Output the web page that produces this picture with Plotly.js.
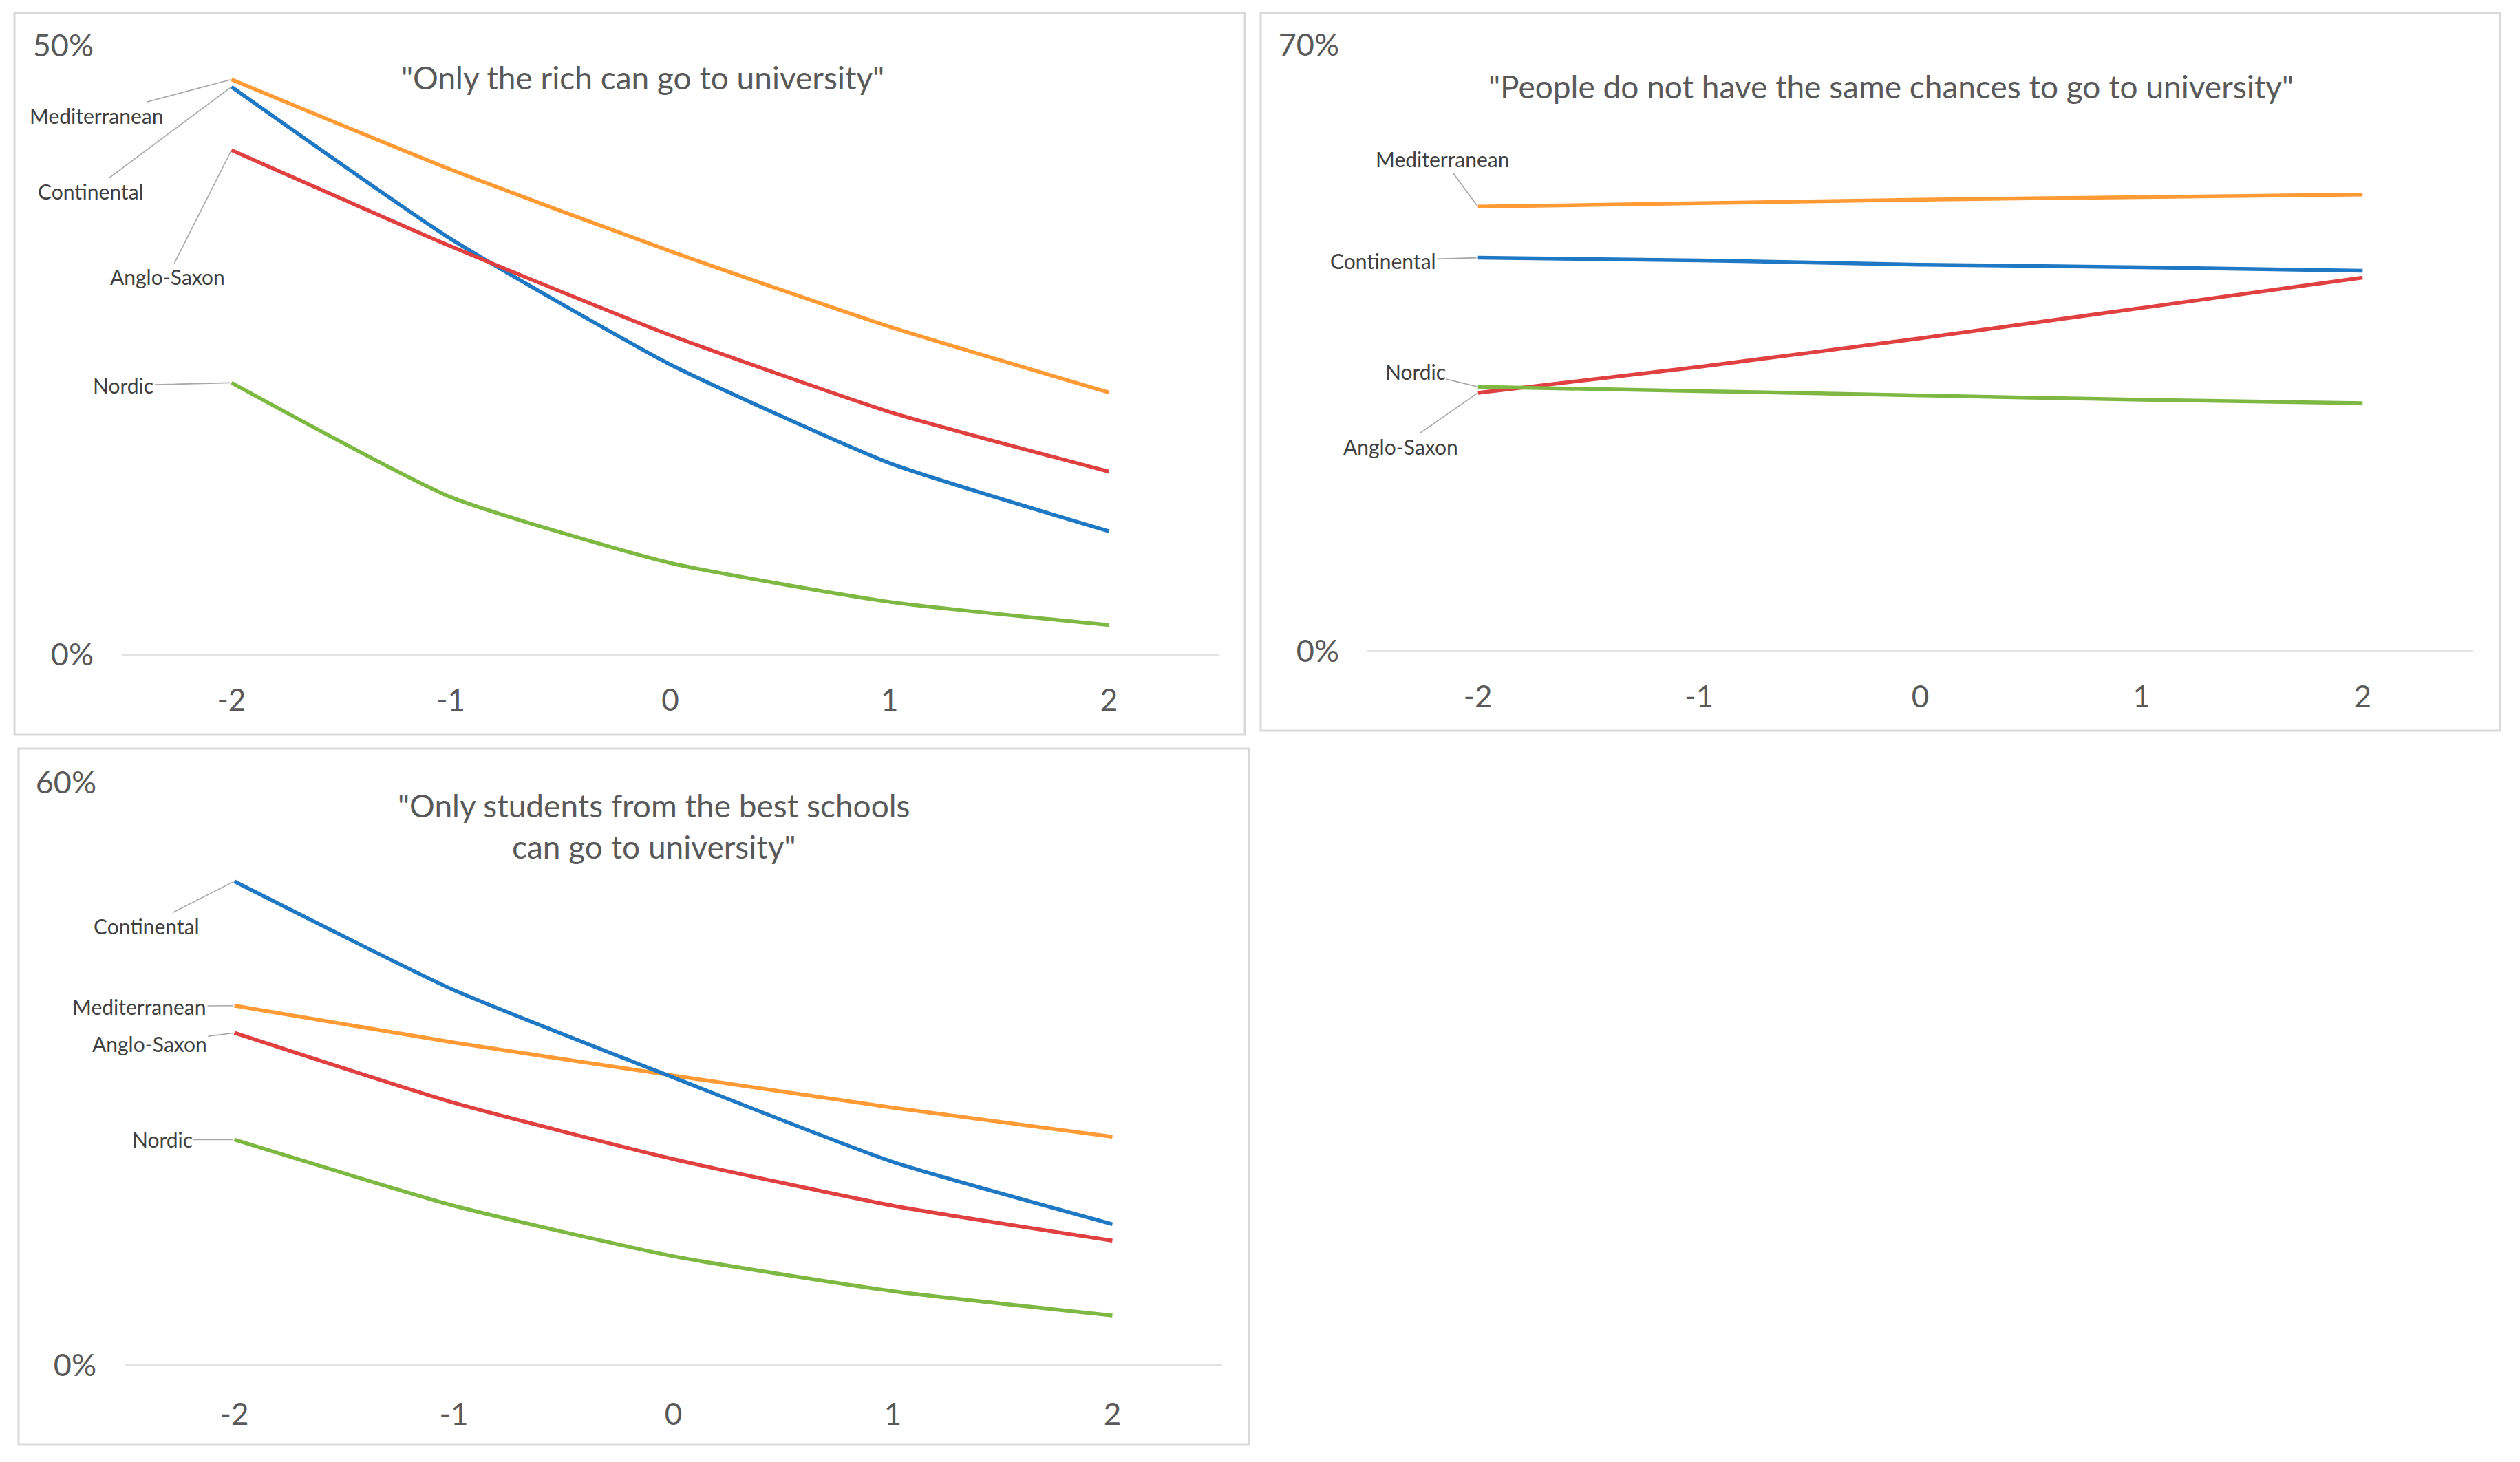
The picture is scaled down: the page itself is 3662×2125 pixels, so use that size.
<!DOCTYPE html>
<html>
<head>
<meta charset="utf-8">
<script src="https://cdn.plot.ly/plotly-3.0.1.min.js"></script>
<style>
html,body{margin:0;padding:0;background:#fff;}
#chart{width:3662px;height:2125px;}
</style>
</head>
<body>
<div id="chart"></div>
<script>
// ---- data ----
const categories = [-2, -1, 0, 1, 2];
const seriesNames = ["Mediterranean", "Continental", "Anglo-Saxon", "Nordic"];
const seriesColors = ["#FF9A35", "#1F78C4", "#E0403F", "#7DB843"];

// Panel 1: "Only the rich can go to university"
const rich_Mediterranean = [47.2, 39.8, 33.1, 26.9, 21.5];
const rich_Continental   = [46.6, 34.1, 23.8, 15.7, 10.1];
const rich_AngloSaxon    = [41.4, 33.5, 26.2, 19.9, 15.0];
const rich_Nordic        = [22.3, 12.9, 7.5, 4.3, 2.4];

// Panel 2: "People do not have the same chances to go to university"
const chances_Mediterranean = [51.3, 51.7, 52.1, 52.4, 52.7];
const chances_Continental   = [45.4, 45.1, 44.6, 44.3, 43.9];
const chances_AngloSaxon    = [29.8, 32.8, 36.1, 39.6, 43.1];
const chances_Nordic        = [30.5, 30.0, 29.5, 29.0, 28.6];

// Panel 3: "Only students from the best schools can go to university"
const schools_Mediterranean = [37.0, 33.2, 29.8, 26.5, 23.5];
const schools_Continental   = [49.8, 38.6, 29.6, 20.9, 14.5];
const schools_AngloSaxon    = [34.2, 27.0, 21.2, 16.4, 12.8];
const schools_Nordic        = [23.2, 16.4, 11.2, 7.6, 5.1];

const titles = [
  "\"Only the rich can go to university\"",
  "\"People do not have the same chances to go to university\"",
  "\"Only students from the best schools<br>can go to university\""
];
const yMax = [50, 70, 60];
const xTickLabels = ["-2", "-1", "0", "1", "2"];

const panelData = [
  [rich_Mediterranean, rich_Continental, rich_AngloSaxon, rich_Nordic],
  [chances_Mediterranean, chances_Continental, chances_AngloSaxon, chances_Nordic],
  [schools_Mediterranean, schools_Continental, schools_AngloSaxon, schools_Nordic]
];

// ---- layout geometry (pixels) ----
const W = 3662, H = 2125;
const px = v => v / W;
const py = v => 1 - v / H;

const plotBoxes = [
  {x0: 177, x1: 1771, yTop: 66, yBot: 951, xStand: 37},
  {x0: 1987, x1: 3594, yTop: 65, yBot: 946, xStand: 37},
  {x0: 181, x1: 1776, yTop: 1137, yBot: 1984, xStand: 42}
];
const frames = [
  {x0: 21, x1: 1809, y0: 19, y1: 1068},
  {x0: 1832, x1: 3633, y0: 19, y1: 1062},
  {x0: 27, x1: 1815, y0: 1088, y1: 2100}
];
const titlePos = [
  {x: 934, y: 113},
  {x: 2748, y: 125},
  {x: 950, y: 1200}
];
// label offsets (ax, ay) from the -2 point, per panel, per series
const labelOffsets = [
  [[-196, 52], [-204, 152], [-93, 184], [-157, 4]],
  [[-51, -69], [-138, 4], [-112, 78], [-91, -22]],
  [[-138, 1], [-128, 65], [-123, 16], [-105, 0]]
];

const FONT = "Lato, 'Open Sans', sans-serif";
const traces = [];
const annotations = [];
const shapes = [];
const layout = {
  width: W, height: H,
  margin: {l: 0, r: 0, t: 0, b: 0},
  paper_bgcolor: "#ffffff",
  plot_bgcolor: "#ffffff",
  showlegend: false,
  font: {family: FONT, color: "#595959"}
};

panelData.forEach((series, p) => {
  const sfx = p === 0 ? "" : String(p + 1);
  const xa = "x" + sfx, ya = "y" + sfx;
  series.forEach((vals, s) => {
    traces.push({
      type: "scatter", mode: "lines",
      x: categories, y: vals,
      xaxis: xa, yaxis: ya,
      name: seriesNames[s],
      line: {color: seriesColors[s], width: 5.5, shape: "spline", smoothing: 0.5},
      hoverinfo: "x+y+name"
    });
    annotations.push({
      xref: xa, yref: ya,
      x: categories[0], y: vals[0],
      text: seriesNames[s],
      showarrow: true, arrowhead: 0, arrowwidth: 1.6, arrowcolor: "#A6A6A6",
      ax: labelOffsets[p][s][0], ay: labelOffsets[p][s][1],
      standoff: 2,
      font: {family: FONT, size: 30, color: "#404040"}
    });
  });
  const b = plotBoxes[p];
  layout["xaxis" + sfx] = {
    domain: [px(b.x0), px(b.x1)],
    anchor: ya,
    range: [-2.5, 2.5],
    tickvals: categories, ticktext: xTickLabels,
    showgrid: false, zeroline: false, showline: false,
    ticks: "", ticklabelstandoff: b.xStand,
    tickfont: {family: FONT, size: 44, color: "#595959"},
    fixedrange: true
  };
  layout["yaxis" + sfx] = {
    domain: [py(b.yBot), py(b.yTop)],
    anchor: xa,
    range: [0, yMax[p]],
    tickvals: [0, yMax[p]],
    ticktext: ["0%", yMax[p] + "%"],
    showgrid: true, gridcolor: "#E3E3E3", gridwidth: 3,
    zeroline: true, zerolinecolor: "#E3E3E3", zerolinewidth: 3,
    showline: false, ticks: "", ticklabelstandoff: 40,
    tickfont: {family: FONT, size: 45, color: "#595959"},
    fixedrange: true
  };
  annotations.push({
    xref: "paper", yref: "paper",
    x: px(titlePos[p].x), y: py(titlePos[p].y),
    xanchor: "center", yanchor: "middle",
    text: titles[p], showarrow: false,
    font: {family: FONT, size: 46, color: "#595959"}
  });
  const f = frames[p];
  shapes.push({
    type: "rect", xref: "paper", yref: "paper",
    x0: px(f.x0), x1: px(f.x1), y0: py(f.y1), y1: py(f.y0),
    line: {color: "#D9D9D9", width: 3}, fillcolor: "rgba(0,0,0,0)", layer: "below"
  });
});

layout.annotations = annotations;
layout.shapes = shapes;

Plotly.newPlot("chart", traces, layout, {displayModeBar: false, staticPlot: true});
</script>
</body>
</html>
